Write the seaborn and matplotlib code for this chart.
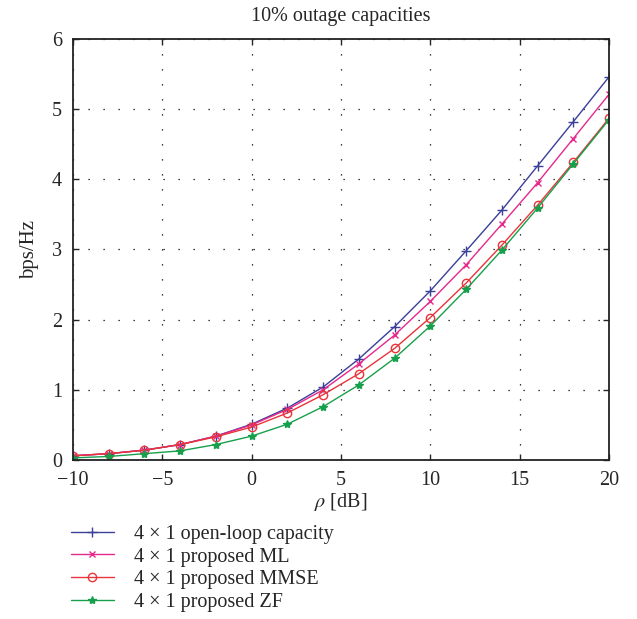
import matplotlib
matplotlib.use("Agg")
import matplotlib.pyplot as plt
import seaborn as sns
import pandas as pd

sns.set_style("ticks")
plt.rcParams['font.family'] = ['Liberation Serif', 'DejaVu Serif']
plt.rcParams['mathtext.fontset'] = 'stix'

rho_db = [-10, -8, -6, -4, -2, 0, 2, 4, 6, 8, 10, 12, 14, 16, 18, 20]
open_loop = [0.06, 0.09, 0.14, 0.22, 0.34, 0.51, 0.74, 1.04, 1.44, 1.90, 2.41, 2.98, 3.56, 4.19, 4.82, 5.46]
prop_ml = [0.06, 0.09, 0.14, 0.22, 0.34, 0.50, 0.72, 1.00, 1.37, 1.78, 2.26, 2.78, 3.36, 3.95, 4.58, 5.21]
prop_mmse = [0.06, 0.09, 0.14, 0.22, 0.33, 0.47, 0.67, 0.93, 1.23, 1.59, 2.03, 2.52, 3.06, 3.63, 4.24, 4.87]
prop_zf = [0.03, 0.05, 0.09, 0.13, 0.22, 0.34, 0.51, 0.76, 1.07, 1.45, 1.91, 2.43, 2.99, 3.59, 4.22, 4.85]

labels = ["4 × 1 open-loop capacity", "4 × 1 proposed ML",
          "4 × 1 proposed MMSE", "4 × 1 proposed ZF"]
series = [open_loop, prop_ml, prop_mmse, prop_zf]
colors = ["#3a3f98", "#e5298c", "#e8343a", "#17a04c"]
markers = ["+", "x", "o", "*"]
msizes = [7, 5, 6, 6]

fig = plt.figure(figsize=(6.37, 6.19), dpi=100)
ax = fig.add_axes([0.1146, 0.2569, 0.8414, 0.6801])

for lab, vals, c, m, ms in zip(labels, series, colors, markers, msizes):
    df = pd.DataFrame({"rho": rho_db, "cap": vals})
    kw = dict(marker=m, markersize=ms, markeredgewidth=1.0, color=c, linewidth=1.0)
    if m == "o":
        kw.update(markerfacecolor="none", markeredgecolor=c)
    else:
        kw.update(markeredgecolor=c, markerfacecolor=c)
    sns.lineplot(data=df, x="rho", y="cap", ax=ax, label=lab, **kw)

ax.set_xlim(-10, 20)
ax.set_ylim(0, 6)
ax.set_xticks([-10, -5, 0, 5, 10, 15, 20])
ax.set_yticks([0, 1, 2, 3, 4, 5, 6])
ax.grid(True, color="black", linestyle=(0, (1, 11)), linewidth=0.9)
ax.tick_params(axis="both", direction="in", length=4, labelsize=14.5, top=True, right=True, width=1)
ax.tick_params(axis="y", pad=8)
ax.tick_params(axis="x", pad=8)
for s in ax.spines.values():
    s.set_linewidth(1.3)
    s.set_color("#222222")
ax.set_title("10% outage capacities", fontsize=14.5, pad=13)
ax.set_xlabel(r"$\rho$ [dB]", fontsize=14.5, labelpad=1)
ax.set_ylabel("bps/Hz", fontsize=15, labelpad=9)

handles, labs = ax.get_legend_handles_labels()
ax.legend_.remove()
fig.legend(handles, labs, loc="upper left", bbox_to_anchor=(0.112, 0.152),
           frameon=False, fontsize=14.5, handlelength=2.1, handletextpad=1.0,
           labelspacing=0.17, borderaxespad=0, borderpad=0)

fig.savefig("out.png", dpi=100)
